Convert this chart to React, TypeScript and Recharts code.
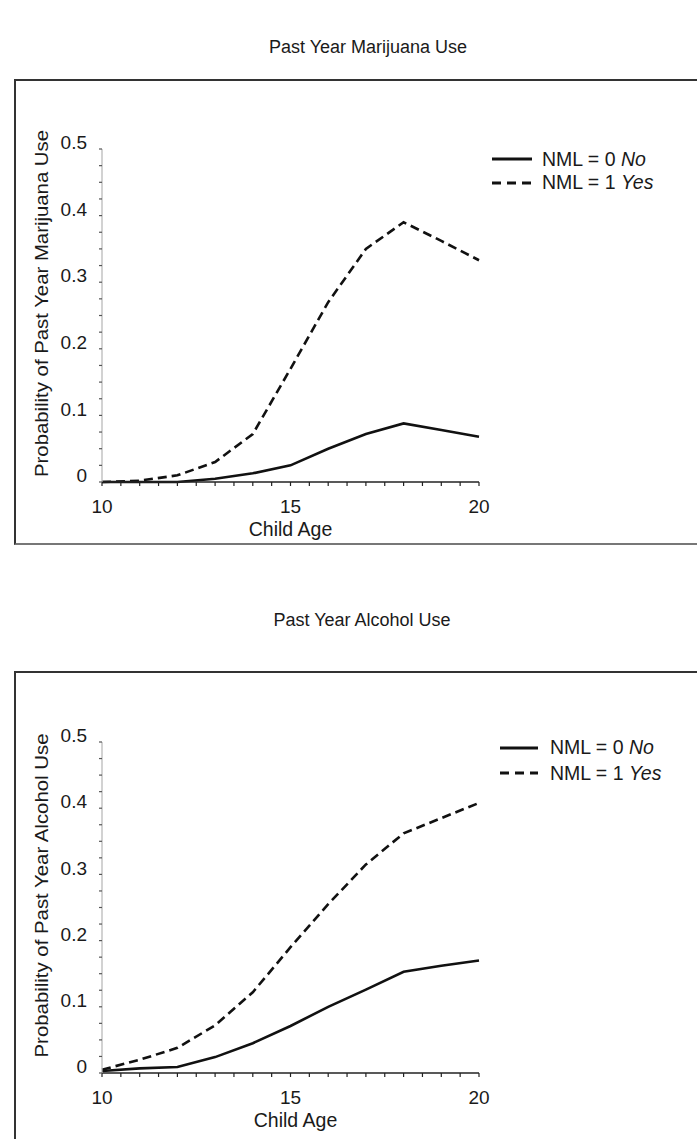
import React from 'react';
import { LineChart, Line, XAxis, YAxis, Legend } from 'recharts';

const ages = [10, 11, 12, 13, 14, 15, 16, 17, 18, 19, 20];
const marijuanaNo = [0, 0, 0, 0.005, 0.013, 0.025, 0.05, 0.072, 0.088, 0.078, 0.068];
const marijuanaYes = [0, 0.002, 0.01, 0.03, 0.072, 0.17, 0.27, 0.35, 0.39, 0.362, 0.333];
const alcoholNo = [0.003, 0.007, 0.009, 0.024, 0.045, 0.071, 0.1, 0.126, 0.153, 0.162, 0.17];
const alcoholYes = [0.005, 0.02, 0.038, 0.072, 0.122, 0.19, 0.255, 0.315, 0.362, 0.385, 0.408];

const xTicks = [10, 10.5, 11, 11.5, 12, 12.5, 13, 13.5, 14, 14.5, 15, 15.5, 16, 16.5, 17, 17.5, 18, 18.5, 19, 19.5, 20];
const xTickLabels = [10, 15, 20];
const yTicks = [0, 0.025, 0.05, 0.075, 0.1, 0.125, 0.15, 0.175, 0.2, 0.225, 0.25, 0.275, 0.3, 0.325, 0.35, 0.375, 0.4, 0.425, 0.45, 0.475, 0.5];
const yTickLabels = ['0', '0.1', '0.2', '0.3', '0.4', '0.5'];

const seriesNames = ['NML = 0 ', 'NML = 1 '];
const seriesTags = ['No', 'Yes'];
const seriesDash = ['', '9 5'];
const titles = ['Past Year Marijuana Use', 'Past Year Alcohol Use'];
const yLabels = ['Probability of Past Year Marijuana Use', 'Probability of Past Year Alcohol Use'];
const xLabel = 'Child Age';

const FONT = '"Liberation Sans", Arial, Helvetica, sans-serif';
const INK = '#1a1a1a';

const buildRows = (no: number[], yes: number[]) =>
  ages.map((a, i) => ({ age: a, no: no[i], yes: yes[i] }));

const XTick = (props: any) => {
  const { x, y, payload } = props;
  const v = payload.value;
  if (!xTickLabels.some((t) => Math.abs(t - v) < 1e-6)) return <g />;
  return (
    <text x={x} y={y} dy="0.71em" textAnchor="middle" fontSize={19} fill={INK} fontFamily={FONT}>
      {String(v)}
    </text>
  );
};

const YTick = (props: any) => {
  const { x, y, payload } = props;
  const v = payload.value;
  const idx = Math.round(v * 10);
  if (Math.abs(v * 10 - idx) > 1e-6) return <g />;
  return (
    <text x={x} y={y - 6.5} dy="0.355em" textAnchor="end" fontSize={19} fill={INK} fontFamily={FONT}>
      {yTickLabels[idx]}
    </text>
  );
};

type PanelProps = {
  top: number;
  rows: any[];
  yLabel: string;
  yLabelLength: number;
  xLabelDx: number;
  legendLeft: number;
  legendTop: number;
  legendRow: number;
  legendLine: number;
  legendGap: number;
  bottomMargin: number;
};

const Panel = (p: PanelProps) => {
  const legendContent = () => (
    <div style={{ fontFamily: FONT, fontSize: 19.5, color: INK, lineHeight: 1 }}>
      {seriesNames.map((n, i) => (
        <div key={n} style={{ display: 'flex', alignItems: 'center', height: p.legendRow, whiteSpace: 'nowrap' }}>
          <svg width={p.legendLine} height={6} style={{ display: 'block' }}>
            <line x1={0} y1={3} x2={p.legendLine} y2={3} stroke="#111" strokeWidth={3.2} strokeDasharray={seriesDash[i] ? '9 6' : undefined} />
          </svg>
          <span style={{ marginLeft: p.legendGap }}>
            {n}
            <i>{seriesTags[i]}</i>
          </span>
        </div>
      ))}
    </div>
  );

  return (
    <div style={{ position: 'absolute', left: 0, top: p.top, width: 697, height: 560 }}>
      <LineChart width={697} height={560} data={p.rows} margin={{ top: 149, right: 218, bottom: p.bottomMargin, left: 62 }}>
        <XAxis
          dataKey="age"
          type="number"
          domain={[10, 20]}
          ticks={xTicks}
          interval={0}
          height={30}
          tickSize={4}
          tickMargin={14}
          axisLine={{ stroke: '#222', strokeWidth: 1.3 }}
          tickLine={{ stroke: '#222', strokeWidth: 1.2 }}
          tick={XTick}
          label={(lp: any) => {
            const vb = lp.viewBox;
            return (
              <text x={vb.x + vb.width / 2 + p.xLabelDx} y={vb.y + 54} textAnchor="middle" fontSize={19.5} fill={INK} fontFamily={FONT}>
                {xLabel}
              </text>
            );
          }}
        />
        <YAxis
          type="number"
          domain={[0, 0.5]}
          ticks={yTicks}
          interval={0}
          width={40}
          tickSize={3}
          tickMargin={12}
          axisLine={{ stroke: '#b4b4b4', strokeWidth: 1.2 }}
          tickLine={{ stroke: '#555', strokeWidth: 1.2 }}
          tick={YTick}
          label={(lp: any) => {
            const vb = lp.viewBox;
            const cx = 47.5;
            const cy = vb.y + vb.height / 2 - 12;
            return (
              <text
                x={cx}
                y={cy}
                transform={`rotate(-90, ${cx}, ${cy})`}
                textAnchor="middle"
                fontSize={18}
                fill={INK}
                fontFamily={FONT}
                textLength={p.yLabelLength}
                lengthAdjust="spacingAndGlyphs"
              >
                {p.yLabel}
              </text>
            );
          }}
        />
        <Legend
          layout="vertical"
          align="center"
          verticalAlign="middle"
          content={legendContent}
          wrapperStyle={{ left: p.legendLeft, top: p.legendTop, width: 200, height: 'auto' }}
        />
        <Line
          type="linear"
          dataKey="no"
          name={seriesNames[0] + seriesTags[0]}
          stroke="#111"
          strokeWidth={2.6}
          dot={false}
          activeDot={false}
          isAnimationActive={false}
        />
        <Line
          type="linear"
          dataKey="yes"
          name={seriesNames[1] + seriesTags[1]}
          stroke="#111"
          strokeWidth={2.6}
          strokeDasharray={seriesDash[1]}
          dot={false}
          activeDot={false}
          isAnimationActive={false}
        />
      </LineChart>
    </div>
  );
};

export default function App() {
  const titleStyle: React.CSSProperties = {
    position: 'absolute',
    fontSize: 18,
    lineHeight: '18px',
    color: INK,
    whiteSpace: 'nowrap',
    transform: 'translateX(-50%)',
  };
  return (
    <div
      style={{
        position: 'absolute',
        left: 0,
        top: 0,
        width: 697,
        height: 1139,
        overflow: 'hidden',
        background: '#fff',
        fontFamily: FONT,
      }}
    >
      <div style={{ ...titleStyle, left: 368, top: 38 }}>{titles[0]}</div>
      <div
        style={{
          position: 'absolute',
          left: 14,
          top: 79,
          width: 720,
          height: 466,
          boxSizing: 'border-box',
          border: '2px solid #333',
          borderBottom: '2px solid #777',
        }}
      />
      <div style={{ ...titleStyle, left: 362, top: 611 }}>{titles[1]}</div>
      <div
        style={{
          position: 'absolute',
          left: 14,
          top: 671,
          width: 720,
          height: 520,
          boxSizing: 'border-box',
          border: '2px solid #333',
        }}
      />
      <Panel
        top={0}
        rows={buildRows(marijuanaNo, marijuanaYes)}
        yLabel={yLabels[0]}
        yLabelLength={347}
        xLabelDx={0}
        legendLeft={492}
        legendTop={147.5}
        legendRow={23.5}
        legendLine={40}
        legendGap={10}
        bottomMargin={48}
      />
      <Panel
        top={593}
        rows={buildRows(alcoholNo, alcoholYes)}
        yLabel={yLabels[1]}
        yLabelLength={324}
        xLabelDx={5}
        legendLeft={500}
        legendTop={142}
        legendRow={25.5}
        legendLine={38}
        legendGap={12}
        bottomMargin={50}
      />
    </div>
  );
}
